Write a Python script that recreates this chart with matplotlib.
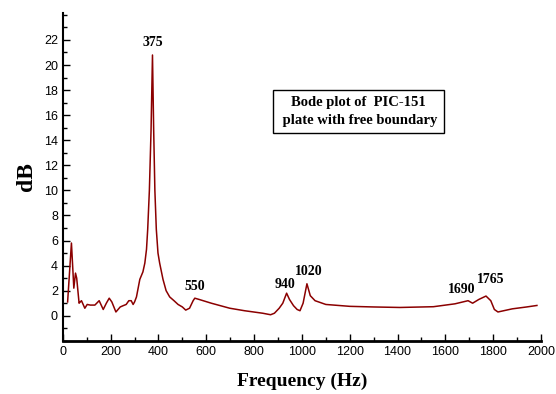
"""Bode plot of a PIC-151 plate with free boundary."""

import matplotlib

matplotlib.use("Agg")
import matplotlib.pyplot as plt
from matplotlib.ticker import MultipleLocator

freq_hz = [
    20, 36, 46, 53, 58, 68, 73, 78, 85, 92, 102, 115, 134, 152, 169, 182, 194,
    205, 222, 240, 252, 265, 276, 286, 294, 300, 308, 322, 335, 343, 350, 355,
    362, 369, 375, 380, 385, 391, 398, 405, 419, 432, 447, 465, 482, 500, 514,
    530, 545, 552, 570, 621, 698, 760, 836, 869, 885, 905, 920, 936, 948, 965,
    980, 992, 1005, 1021, 1035, 1055, 1100, 1200, 1300, 1410, 1550, 1640, 1695,
    1714, 1740, 1770, 1790, 1805, 1820, 1880, 1940, 1983,
]
db_values = [
    1.1, 5.8, 2.2, 3.4, 3.0, 1.0, 1.1, 1.2, 0.9, 0.6, 0.9, 0.85, 0.85, 1.2,
    0.5, 1.0, 1.4, 1.1, 0.3, 0.7, 0.8, 0.9, 1.2, 1.2, 0.9, 1.1, 1.5, 2.9, 3.5,
    4.2, 5.3, 6.9, 10.0, 14.8, 20.8, 14.8, 10.0, 6.9, 5.0, 4.2, 2.9, 2.0, 1.5,
    1.2, 0.9, 0.7, 0.45, 0.6, 1.2, 1.4, 1.3, 1.0, 0.6, 0.4, 0.2, 0.08, 0.2,
    0.6, 1.0, 1.8, 1.3, 0.8, 0.5, 0.4, 1.0, 2.55, 1.6, 1.2, 0.9, 0.75, 0.7,
    0.66, 0.72, 0.95, 1.2, 1.0, 1.3, 1.57, 1.2, 0.5, 0.3, 0.55, 0.7, 0.82,
]

peak_labels = ["375", "550", "940", "1020", "1690", "1765"]
peak_label_x = [375, 552, 928, 1028, 1668, 1789]
peak_label_y = [21.3, 1.8, 1.95, 3.05, 1.55, 2.35]

serif = ["Liberation Serif", "DejaVu Serif"]

figure = plt.figure(figsize=(5.56, 3.94), dpi=100)
axis = figure.add_axes([0.113, 0.135, 0.86, 0.832])
axis.plot(freq_hz, db_values, color="#8b0000", linewidth=1.1)

axis.set_xlim(0, 2000)
axis.set_ylim(-2, 24.15)
axis.xaxis.set_major_locator(MultipleLocator(200))
axis.xaxis.set_minor_locator(MultipleLocator(100))
axis.set_yticks(range(0, 23, 2))
axis.yaxis.set_minor_locator(MultipleLocator(1))

for side in ("top", "right"):
    axis.spines[side].set_visible(False)
axis.spines["left"].set_linewidth(1.5)
axis.spines["bottom"].set_linewidth(2.0)
axis.tick_params(which="both", direction="in", width=1.0, labelsize=9)
axis.tick_params(which="major", length=5)
axis.tick_params(which="minor", length=3)
for label in axis.get_xticklabels() + axis.get_yticklabels():
    label.set_fontfamily("Liberation Sans")

for text, x, y in zip(peak_labels, peak_label_x, peak_label_y):
    axis.text(x, y, text, ha="center", va="bottom", fontsize=10,
              fontweight="bold", family=serif)

axis.text(1237, 16.3, "Bode plot of  PIC-151\n plate with free boundary",
          ha="center", va="center", fontsize=10.5, fontweight="bold",
          family=serif, linespacing=1.45,
          bbox=dict(boxstyle="square,pad=0.45", facecolor="white",
                    edgecolor="black", linewidth=1.0))

axis.set_xlabel("Frequency (Hz)", fontsize=14, fontweight="bold",
                family=serif, labelpad=11)
axis.set_ylabel("dB", fontsize=17, fontweight="bold", family=serif,
                labelpad=5)

figure.savefig("out.png", dpi=100)
plt.close(figure)
